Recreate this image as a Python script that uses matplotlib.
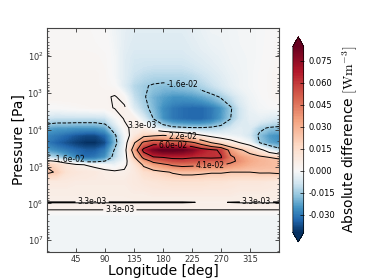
import numpy as np
import matplotlib
matplotlib.use('Agg')
import matplotlib.pyplot as plt
from matplotlib.colors import TwoSlopeNorm
from matplotlib.ticker import LogLocator, NullFormatter

plt.rcParams['mathtext.fontset'] = 'cm'

# ---- data ----
longitude = [0, 15, 30, 45, 60, 75, 90, 105, 120, 135, 150, 165, 180,
             195, 210, 225, 240, 255, 270, 285, 300, 315, 330, 345, 360]
log_pressure = [1.2, 2.0, 2.5, 2.8, 3.1, 3.4, 3.7, 3.95, 4.15, 4.35, 4.55, 4.75,
                4.85, 4.95, 5.15, 5.4, 5.7, 5.92, 5.97, 6.02, 6.15, 6.22, 6.35, 7.35]
# absolute difference in units of 1e-3 W m^-3 (rows: pressure, cols: longitude)
diff_milli = [
    [1, 1, 1, 1, 1, 0.5, 0, -2, -4, -5, -5, -5, -5, -5, -5, -4, -3, -2, -2, -1.5, -1, -1, -0.5, 0, 1],
    [1.5, 1.5, 1.5, 1.5, 1.5, 1.5, 1, -1, -5, -7, -7, -7, -7, -7, -7, -6, -5, -4, -3, -2, -1.5, -1, -0.5, 0.5, 1.5],
    [2, 2, 2, 2, 2, 2, 1.5, -1, -5, -9, -11, -12, -12, -12, -12, -11, -9, -7, -5, -3, -2, -1, 0, 1, 2],
    [2, 2, 2, 2, 2, 2, 1.5, 0.5, -6, -12, -15, -17, -18, -18, -17, -16, -13, -10, -7, -4, -2, -1, 0, 1, 2],
    [2.5, 2.5, 2.5, 2.5, 2.5, 2.5, 2.5, 3.8, 1, -10, -15, -20, -23, -25, -25, -24, -22, -19, -15, -10, -5, -2, -0.5, 1, 2.5],
    [0, 0, 0.5, 1, 1.5, 2, 2, 3.6, 4.5, -6, -13, -19, -26, -30, -32, -33, -33, -30, -25, -17, -8, -3, -1, -0.5, 0],
    [-10, -11, -11, -11, -11, -11, -10, -2, 3.8, 4.2, -6, -16, -25, -30, -32, -33, -33, -30, -24, -16, -8, -4, -4, -6, -8],
    [-22, -24, -24, -25, -25, -25, -22, -10, 1, 6, 5, -2, -9, -13, -14, -15, -15, -14, -12, -8, -5, -6, -14, -17, -18],
    [-28, -30, -33, -36, -38, -38, -33, -18, -2, 8, 18, 20, 22, 20, 17, 10, 4, 0, -2, -3, -4, -8, -18, -24, -26],
    [-30, -34, -37, -40, -42, -42, -38, -20, -3, 20, 45, 54, 52, 50, 50, 44, 34, 22, 14, 8, 3, -2, -16, -22, -25],
    [-24, -27, -30, -33, -35, -35, -30, -15, -2, 30, 65, 80, 86, 86, 84, 78, 68, 63, 58, 35, 24, 16, 8, -4, -12],
    [-10, -14, -20, -27, -32, -30, -25, -12, -2, 20, 45, 58, 60, 62, 62, 61, 61, 62, 61, 44, 36, 30, 26, 22, 20],
    [6, 2, -4, -12, -20, -20, -16, -8, -1, 14, 32, 45, 50, 55, 56, 54, 52, 50, 50, 44, 38, 32, 29, 27, 25],
    [21, 16, 10, 5, 3, 1, -1, -3, 1, 10, 24, 33, 38, 43, 45, 44, 44, 42, 42, 38, 34, 30, 28, 27, 26],
    [24, 21, 12, 10, 9, 8, 6, 5, 5, 8, 14, 17, 20, 23, 25, 25, 24, 23, 23, 22, 22, 22, 23, 23, 24],
    [8, 8, 8, 7, 7, 7, 7, 7, 7, 8, 10, 11, 12, 13, 13, 13, 13, 12, 12, 11, 10, 10, 10, 9, 8],
    [6, 6, 6, 6, 6, 6, 6, 6, 6, 7, 7, 8, 8, 8, 8, 8, 8, 8, 8, 8, 7, 7, 7, 6.5, 6],
    [5.5, 5.5, 5.5, 5.5, 5.5, 5.5, 5.5, 5.5, 5.5, 5.5, 5.5, 5.5, 5.5, 5.5, 5.5, 5.5, 5.5, 5.5, 5.5, 5.5, 5.5, 5.5, 5.5, 5.5, 5.5],
    [2.6, 2.6, 2.6, 2.6, 2.6, 2.6, 2.6, 2.6, 2.6, 2.6, 2.6, 2.6, 2.6, 2.6, 2.6, 3.0, 3.9, 4.1, 3.9, 3.0, 2.6, 2.6, 2.6, 2.6, 2.6],
    [5, 5, 5, 5, 5, 5, 5, 5, 5, 5, 5, 5, 5, 5, 5, 5, 5, 5, 5, 5, 5, 5, 5, 5, 5],
    [4.5, 4.5, 4.5, 4.5, 4.5, 4.5, 4.5, 4.5, 4.5, 4.5, 4.5, 4.5, 4.5, 4.5, 4.5, 4.5, 4.5, 4.5, 4.5, 4.5, 4.5, 4.5, 4.5, 4.5, 4.5],
    [1, 1, 1, 1, 1, 1, 1, 1, 1, 1, 1, 1, 1, 1, 1, 1, 1, 1, 1, 1, 1, 1, 1, 1, 1],
    [-1.5, -1.5, -1.5, -1.5, -1.5, -1.5, -1.5, -1.5, -1.5, -1.5, -1.5, -1.5, -1.5, -1.5, -1.5, -1.5, -1.5, -1.5, -1.5, -1.5, -1.5, -1.5, -1.5, -1.5, -1.5],
    [-1.5, -1.5, -1.5, -1.5, -1.5, -1.5, -1.5, -1.5, -1.5, -1.5, -1.5, -1.5, -1.5, -1.5, -1.5, -1.5, -1.5, -1.5, -1.5, -1.5, -1.5, -1.5, -1.5, -1.5, -1.5],
]

contour_levels = [-0.016, 0.0033, 0.022, 0.041, 0.060]
colorbar_ticks = [-0.030, -0.015, 0.000, 0.015, 0.030, 0.045, 0.060, 0.075]
lon_ticks = [45, 90, 135, 180, 225, 270, 315]
pressure_ticks = [1e2, 1e3, 1e4, 1e5, 1e6, 1e7]
color_min, color_max = -0.042, 0.085

# label anchor points (longitude, log10 pressure)
label_lon = [147, 211, 196, 253, 210, 35, 70, 325, 113]
label_logp = [3.85, 4.2, 4.44, 5.0, 2.75, 4.72, 5.97, 5.97, 6.18]

# ---- figure ----
lon = np.array(longitude, dtype=float)
pres = 10.0 ** np.array(log_pressure)
diff = np.array(diff_milli) * 1e-3

fig = plt.figure(figsize=(3.74, 2.80), dpi=100)
ax = fig.add_axes([0.1257, 0.1, 0.6203, 0.8])

norm = TwoSlopeNorm(vmin=color_min, vcenter=0.0, vmax=color_max)
fill_levels = np.linspace(color_min, color_max, 256)
cf = ax.contourf(lon, pres, diff, levels=fill_levels, cmap='RdBu_r',
                 norm=norm, extend='both')
cs = ax.contour(lon, pres, diff, levels=contour_levels, colors='k',
                linewidths=0.7)
ax.clabel(cs, fmt='%.1e', fontsize=5.5, inline=True, inline_spacing=2,
          manual=list(zip(label_lon, 10.0 ** np.array(label_logp))))

ax.set_yscale('log')
ax.set_xlim(0, 360)
ax.set_ylim(2.1e7, 17)
ax.set_xticks(lon_ticks)
ax.set_yticks(pressure_ticks)
ax.yaxis.set_minor_locator(LogLocator(base=10, subs=np.arange(2, 10), numticks=20))
ax.yaxis.set_minor_formatter(NullFormatter())
ax.tick_params(which='both', direction='in', top=True, right=True,
               labelsize=6, colors='#333333', pad=2.5)
ax.tick_params(which='major', length=3, width=0.6)
ax.tick_params(which='minor', length=1.5, width=0.5)
for s in ax.spines.values():
    s.set_color('#444444')
    s.set_linewidth(0.8)
ax.set_xlabel('Longitude [deg]', fontsize=10, labelpad=0)
ax.set_ylabel('Pressure [Pa]', fontsize=10, labelpad=1)

cax = fig.add_axes([0.783, 0.136, 0.029, 0.732])
cb = fig.colorbar(cf, cax=cax, spacing='proportional', ticks=colorbar_ticks,
                  format='%.3f')
cb.ax.tick_params(labelsize=6, direction='in', length=3, width=0.5)
cb.outline.set_linewidth(0.5)
cb.set_label(r'Absolute difference $[\mathrm{W m^{-3}}]$', fontsize=10)

fig.savefig('out.png', dpi=100)
